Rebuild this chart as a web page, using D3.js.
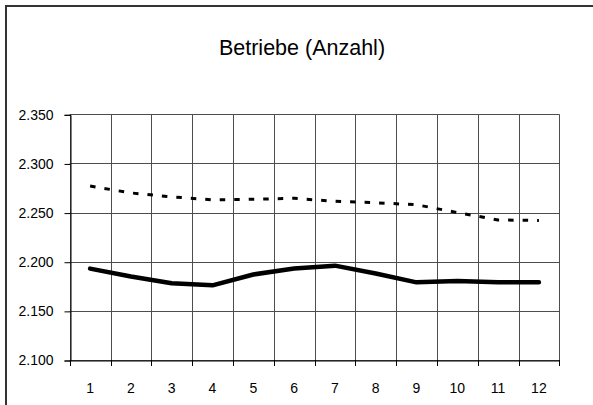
<!DOCTYPE html>
<html>
<head>
<meta charset="utf-8">
<script src="https://cdn.jsdelivr.net/npm/d3@7"></script>
<style>
  html, body { margin: 0; padding: 0; background: #fff; }
  svg { display: block; font-family: "Liberation Sans", Arial, sans-serif; }
</style>
</head>
<body>
<svg id="chart" width="593" height="405"></svg>
<script>
const title = "Betriebe (Anzahl)";
const categories = ["1","2","3","4","5","6","7","8","9","10","11","12"];
const seriesCurrent = [2193, 2185, 2178, 2176, 2187, 2193, 2196, 2188, 2179, 2180.5, 2179, 2179];
const seriesPrevious = [2277, 2270, 2266, 2263, 2263.5, 2264.5, 2261.5, 2260, 2258, 2250, 2242.5, 2242];
const yTicks = [2100, 2150, 2200, 2250, 2300, 2350];

const svg = d3.select("#chart");
const W = 593, H = 405;
const plot = { left: 69.7, right: 559.3, top: 114.3, bottom: 360 };

// outer frame (left and top visible; chart is cropped on right/bottom)
svg.append("path")
  .attr("d", `M6,${H + 5} L6,6 L${W + 5},6`)
  .attr("fill", "none").attr("stroke", "#333").attr("stroke-width", 2);

svg.append("text")
  .attr("x", 302).attr("y", 54.5)
  .attr("text-anchor", "middle")
  .attr("font-size", 21.5)
  .attr("fill", "#000")
  .text(title);

const x = d3.scaleBand().domain(categories).range([plot.left, plot.right]).padding(0);
const y = d3.scaleLinear().domain([2100, 2350]).range([plot.bottom, plot.top]);

const fmt = v => d3.format(".3f")(v / 1000);

// horizontal gridlines
svg.append("g").selectAll("line").data(yTicks).join("line")
  .attr("x1", plot.left).attr("x2", plot.right)
  .attr("y1", d => Math.round(y(d)) + 0.5).attr("y2", d => Math.round(y(d)) + 0.5)
  .attr("stroke", "#4d4d4d").attr("stroke-width", 1);

// vertical gridlines at category boundaries
const bounds = categories.map(c => x(c)).concat([plot.right]);
svg.append("g").selectAll("line").data(bounds).join("line")
  .attr("x1", d => Math.round(d) + 0.5).attr("x2", d => Math.round(d) + 0.5)
  .attr("y1", plot.top).attr("y2", plot.bottom)
  .attr("stroke", "#4d4d4d").attr("stroke-width", 1);

// y axis
const yAxis = d3.axisLeft(y).tickValues(yTicks).tickFormat(fmt).tickSize(6).tickPadding(11);
const gy = svg.append("g").attr("transform", `translate(${Math.round(plot.left) + 0.5},0.5)`).call(yAxis);
gy.select(".domain").attr("stroke", "#000");
gy.selectAll(".tick line").attr("stroke", "#000");
gy.selectAll("text").attr("font-size", 14).attr("fill", "#000")
  .attr("font-family", "'Liberation Sans', Arial, sans-serif");

// x axis
const xAxis = d3.axisBottom(x).tickSize(0).tickPadding(22.5);
const gx = svg.append("g").attr("transform", `translate(0,${Math.round(plot.bottom) + 0.5})`).call(xAxis);
gx.select(".domain").attr("stroke", "#000");
gx.selectAll("text").attr("font-size", 14).attr("fill", "#000")
  .attr("font-family", "'Liberation Sans', Arial, sans-serif");
// x tick marks at category boundaries
svg.append("g").selectAll("line").data(bounds).join("line")
  .attr("x1", d => Math.round(d) + 0.5).attr("x2", d => Math.round(d) + 0.5)
  .attr("y1", plot.bottom).attr("y2", plot.bottom + 6)
  .attr("stroke", "#000");

const cx = c => x(c) + x.bandwidth() / 2;
const line = d3.line().x((d, i) => cx(categories[i])).y(d => y(d));

svg.append("path").datum(seriesPrevious)
  .attr("d", line).attr("fill", "none")
  .attr("stroke", "#000").attr("stroke-width", 3)
  .attr("stroke-dasharray", "5.5,9");

svg.append("path").datum(seriesCurrent)
  .attr("d", line).attr("fill", "none")
  .attr("stroke", "#000").attr("stroke-width", 4.5)
  .attr("stroke-linecap", "round").attr("stroke-linejoin", "round");
</script>
</body>
</html>
